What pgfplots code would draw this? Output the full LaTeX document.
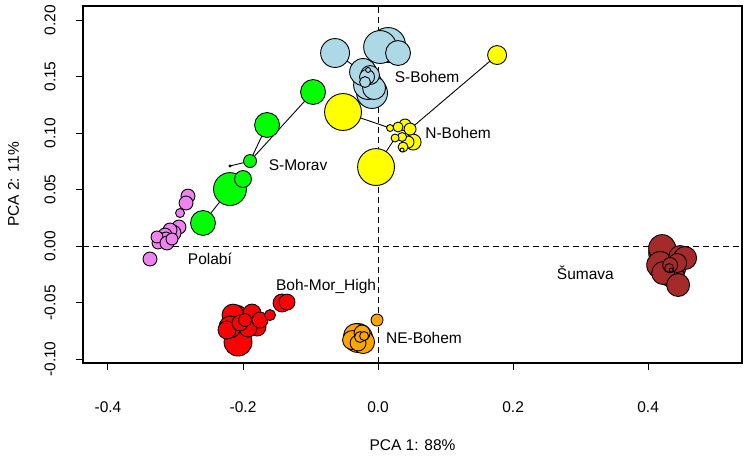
\documentclass[border=0pt]{standalone}
\usepackage{pgfplots}
\pgfplotsset{compat=1.18}
\usepackage{fontspec}
\setmainfont{Liberation Sans}
\definecolor{lblue}{HTML}{ADD8E6}
\definecolor{ryellow}{HTML}{FFFF00}
\definecolor{rgreen}{HTML}{00FF00}
\definecolor{rviolet}{HTML}{EE82EE}
\definecolor{rred}{HTML}{FF0000}
\definecolor{rorange}{HTML}{FFA500}
\definecolor{rbrown}{HTML}{A52A2A}
\pgfplotstableread{
x y r
-0.2815 0.0442 7.5
-0.2844 0.0381 7.5
-0.2933 0.0292 5
-0.2948 0.0168 7.5
-0.3037 0.0115 8.5
-0.3081 0.0142 7.5
-0.3156 0.0097 7.5
-0.3200 0.0053 7.5
-0.3141 0.0071 6.5
-0.3259 0.0027 6.5
-0.3274 0.0080 6.5
-0.3126 0.0027 7.5
-0.3052 0.0062 6.5
-0.3378 -0.0115 7.5
}\polabi
\pgfplotstableread{
x y r
-0.2193 0.0504 17
-0.0963 0.1363 13
-0.1644 0.1071 13
-0.2593 0.0204 13
-0.2000 0.0593 9
-0.1896 0.0752 7
-0.2193 0.0708 1.5
}\smorav
\pgfplotstableread{
x y r
0.0148 0.1779 18
0.0030 0.1761 17
-0.0089 0.1354 16
-0.0637 0.1708 15
-0.0148 0.1425 15
-0.0222 0.1540 14
0.0296 0.1708 13
-0.0059 0.1398 12
-0.0119 0.1513 10
-0.0163 0.1496 8
-0.0193 0.1451 6
-0.0148 0.1558 3
}\sbohem
\pgfplotstableread{
x y r
-0.0519 0.1186 19
-0.0030 0.0699 19
0.1763 0.1690 10
0.0519 0.0920 8.5
0.0400 0.1071 6.5
0.0474 0.1035 6.5
0.0444 0.0920 6.5
0.0296 0.1053 5.5
0.0370 0.0876 5.5
0.0356 0.0965 5
0.0252 0.0956 4.5
0.0178 0.1044 4
0.0356 0.0850 2.5
}\nbohem
\pgfplotstableread{
x y r
-0.2074 -0.0850 14.5
-0.2104 -0.0637 13.5
-0.2148 -0.0611 11.5
-0.2193 -0.0717 11.5
-0.1422 -0.0504 9.5
-0.1867 -0.0593 9.5
-0.1793 -0.0717 9.5
-0.1926 -0.0726 9.5
-0.2237 -0.0743 9.5
-0.1348 -0.0496 8.5
-0.2044 -0.0681 8.5
-0.1748 -0.0655 8.5
-0.1970 -0.0655 7
-0.1600 -0.0611 6
}\bohmor
\pgfplotstableread{
x y r
-0.0296 -0.0814 15
-0.0326 -0.0796 13
-0.0222 -0.0850 12
-0.0385 -0.0832 10
-0.0237 -0.0770 8.5
-0.0296 -0.0858 8.5
-0.0015 -0.0655 6.5
-0.0267 -0.0805 6
-0.0207 -0.0796 5
}\nebohem
\pgfplotstableread{
x y r
0.4281 -0.0124 17
0.4222 -0.0062 15
0.4207 -0.0018 14
0.4356 -0.0195 14
0.4296 -0.0230 14
0.4178 -0.0168 14
0.4474 -0.0097 12
0.4548 -0.0106 12
0.4370 -0.0274 12
0.4222 -0.0239 12
0.4444 -0.0345 12
0.4430 -0.0150 10
0.4326 -0.0168 8
0.4311 -0.0195 5
0.4341 -0.0212 2.5
}\sumava
\begin{document}
\fontsize{15.5bp}{18bp}\selectfont
\begin{tikzpicture}
\useasboundingbox (0,0) rectangle (747bp,457bp);
\begin{axis}[
  at={(83bp,94bp)}, anchor=south west,
  scale only axis, width=659bp, height=357bp,
  xmin=-0.437, xmax=0.539, ymin=-0.1035, ymax=0.2124,
  axis line style={line width=1.1pt},
  tick align=outside, xtick pos=bottom, ytick pos=left,
  major tick length=7bp, every tick/.style={black, line width=1pt},
  xtick={-0.4,-0.2,0,0.2,0.4},
  xticklabels={-0.4,-0.2,0.0,0.2,0.4},
  ytick={-0.10,-0.05,0,0.05,0.10,0.15,0.20},
  yticklabels={-0.10,-0.05,0.00,0.05,0.10,0.15,0.20},
  yticklabel style={rotate=90, anchor=south},
  xticklabel shift=26bp, yticklabel shift=15bp,
  xlabel={PCA 1: 88\%}, ylabel={PCA 2: 11\%},
  xlabel shift=17bp, ylabel shift=15bp,
  every axis plot/.append style={line width=0.9pt},
  clip=false,
  grp/.style={scatter, only marks, mark=*, mark options={line width=0.9pt},
    scatter/use mapped color={draw=black, fill=#1},
    visualization depends on={\thisrow{r}\as\rad},
    scatter/@pre marker code/.append style={/tikz/mark size=\rad-0.5}},
]
% reference lines
\addplot[black, line width=1pt, dash pattern=on 6bp off 4bp] coordinates {(-0.437,0) (0.539,0)};
\addplot[black, line width=1pt, dash pattern=on 6bp off 4bp] coordinates {(0,-0.1035) (0,0.2124)};
% connecting lines
\addplot[black] coordinates {(-0.0637,0.1708) (-0.0222,0.1540)};
\addplot[black] coordinates {(-0.0519,0.1186) (0.0178,0.1044)};
\addplot[black] coordinates {(0.1763,0.1690) (0.0474,0.1035)};
\addplot[black] coordinates {(-0.0030,0.0699) (0.0252,0.0956)};
\addplot[black] coordinates {(-0.0963,0.1363) (-0.1896,0.0752)};
\addplot[black] coordinates {(-0.1644,0.1071) (-0.1896,0.0752)};
\addplot[black] coordinates {(-0.2193,0.0708) (-0.1896,0.0752)};
\addplot[black] coordinates {(-0.2193,0.0504) (-0.2593,0.0204)};
% points
\addplot[grp=rviolet] table[x=x,y=y] {\polabi};
\addplot[grp=rgreen] table[x=x,y=y] {\smorav};
\addplot[grp=lblue] table[x=x,y=y] {\sbohem};
\addplot[grp=ryellow] table[x=x,y=y] {\nbohem};
\addplot[grp=rred] table[x=x,y=y] {\bohmor};
\addplot[grp=rorange] table[x=x,y=y] {\nebohem};
\addplot[grp=rbrown] table[x=x,y=y] {\sumava};
% group labels
\node at (axis cs:0.0726,0.150) {S-Bohem};
\node at (axis cs:0.1185,0.100) {N-Bohem};
\node at (axis cs:-0.1185,0.0717) {S-Morav};
\node at (axis cs:-0.249,-0.0115) {Polabí};
\node at (axis cs:-0.077,-0.0354) {Boh-Mor\_High};
\node at (axis cs:0.068,-0.0814) {NE-Bohem};
\node at (axis cs:0.307,-0.0239) {Šumava};
\end{axis}
\end{tikzpicture}
\end{document}
